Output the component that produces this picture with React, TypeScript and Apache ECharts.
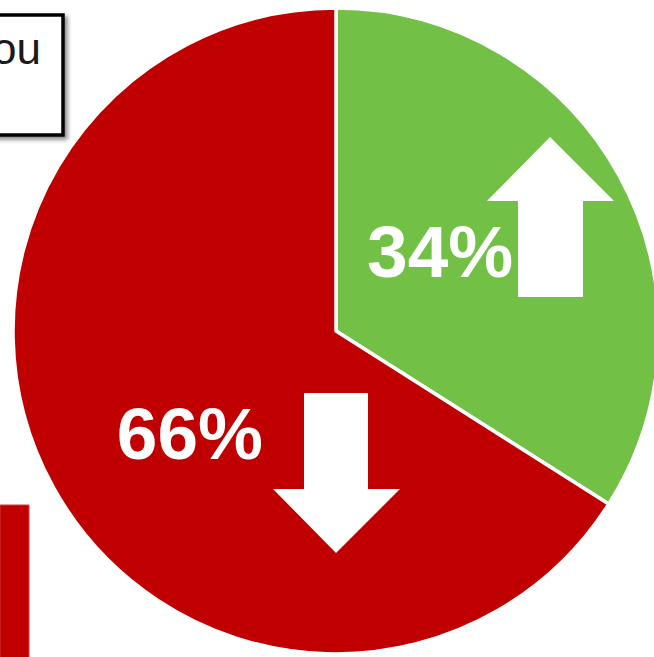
import React, { useEffect, useRef } from "react";
import * as echarts from "echarts";

const categories = ["Increase", "Decrease"];
const values = [34, 66];
const colors = ["#72C146", "#C00000"];
const boxText = "ou";

export default function App() {
  const ref = useRef<HTMLDivElement>(null);
  useEffect(() => {
    if (!ref.current) return;
    const chart = echarts.init(ref.current, undefined, { renderer: "svg" });
    const font = "'Liberation Sans', Arial, sans-serif";
    chart.setOption({
      animation: false,
      backgroundColor: "#ffffff",
      series: [
        {
          type: "pie",
          center: [336, 331],
          radius: [0, 323],
          startAngle: 90,
          clockwise: true,
          silent: true,
          itemStyle: { borderColor: "#ffffff", borderWidth: 3.5 },
          label: {
            show: true,
            position: "inside",
            formatter: (p: any) => `${p.value}%`,
            color: "#ffffff",
            fontFamily: font,
            fontWeight: "bold",
            fontSize: 73,
          },
          labelLine: { show: false },
          data: categories.map((c, i) => ({
            name: c,
            value: values[i],
            itemStyle: { color: colors[i] },
            label: { offset: i === 0 ? [-40, 0] : [-2, 23] },
          })),
        },
      ],
      graphic: [
        {
          type: "polygon",
          silent: true,
          z: 100,
          shape: {
            points: [
              [550, 137], [614, 201], [583, 201], [583, 297],
              [518, 297], [518, 201], [487, 201],
            ],
          },
          style: { fill: "#ffffff" },
        },
        {
          type: "polygon",
          silent: true,
          z: 100,
          shape: {
            points: [
              [304, 393], [368, 393], [368, 489], [400, 489],
              [336, 553], [273, 489], [304, 489],
            ],
          },
          style: { fill: "#ffffff" },
        },
        {
          type: "rect",
          silent: true,
          z: 100,
          shape: { x: -6, y: 15, width: 69, height: 120 },
          style: {
            fill: "#ffffff",
            stroke: "#000000",
            lineWidth: 3.5,
            shadowBlur: 4,
            shadowOffsetX: 3,
            shadowOffsetY: 3,
            shadowColor: "rgba(0,0,0,0.45)",
          },
        },
        {
          type: "text",
          silent: true,
          z: 101,
          x: 41,
          y: 70,
          style: {
            text: boxText,
            fill: "#1a1a1a",
            fontFamily: font,
            fontSize: 44,
            align: "right",
            verticalAlign: "bottom",
          },
        },
        {
          type: "rect",
          silent: true,
          z: 100,
          shape: { x: 0, y: 505, width: 29, height: 160 },
          style: { fill: "#C00000", stroke: "#D23A3A", lineWidth: 1 },
        },
      ],
    });
    return () => chart.dispose();
  }, []);
  return (
    <div
      ref={ref}
      style={{ position: "fixed", left: 0, top: 0, width: 654, height: 657 }}
    />
  );
}
